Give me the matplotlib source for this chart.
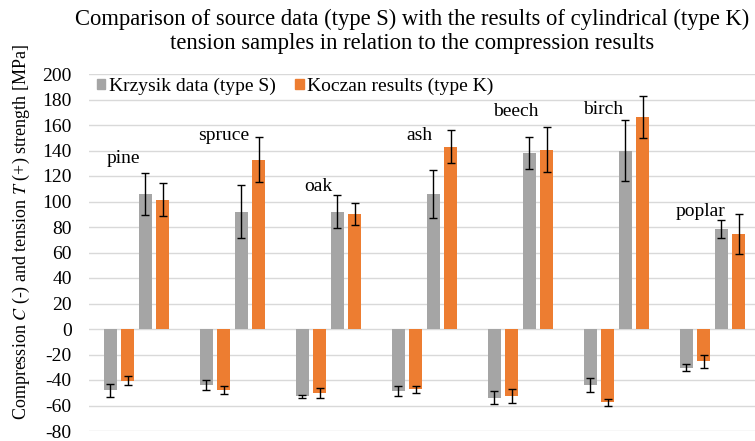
import matplotlib
matplotlib.use("Agg")
import matplotlib.pyplot as plt
import numpy as np
from matplotlib.patches import Patch

species = ["pine", "spruce", "oak", "ash", "beech", "birch", "poplar"]

comp_S = [-48, -44, -52.7, -48.6, -54, -44, -30.5]
comp_S_err = [5, 4, 1.2, 3.6, 5, 5.4, 2.7]
comp_K = [-40.6, -48, -50, -47.3, -52.7, -57.6, -25.3]
comp_K_err = [3.7, 3.3, 3.8, 2.7, 5.4, 2.6, 5.3]
tens_S = [106, 92, 92, 106, 137.8, 140, 78.4]
tens_S_err = [16.5, 21, 13, 19, 12.5, 24, 7]
tens_K = [101.5, 132.8, 90, 143, 140.6, 166, 74.5]
tens_K_err = [13, 17.5, 8.5, 13, 17.5, 16.5, 15.5]

label_y = [133.6, 151.5, 111.7, 152, 170.5, 172.5, 92.5]
label_dx = [-0.14, -0.09, -0.11, -0.05, -0.05, -0.14, -0.12]

ticks = list(range(-80, 201, 20))

gray = "#A5A5A5"
orange = "#ED7D31"

plt.rcParams["font.family"] = ["Liberation Serif", "DejaVu Serif"]
plt.rcParams["mathtext.fontset"] = "stix"

fig = plt.figure(figsize=(7.55, 4.41), dpi=100)
ax = fig.add_axes([88.5 / 755, 1 - 431 / 441, 1 - 88.5 / 755, (431 - 74) / 441])

x = np.arange(len(species))
w = 0.135
step = 0.182
ekw = dict(ecolor="black", elinewidth=1.0, capsize=2.8, capthick=1.0)
series = [
    (comp_S, comp_S_err, gray),
    (comp_K, comp_K_err, orange),
    (tens_S, tens_S_err, gray),
    (tens_K, tens_K_err, orange),
]
for k, (vals, errs, col) in enumerate(series):
    ax.bar(x + (k - 1.5) * step, vals, width=w, color=col, yerr=errs,
           error_kw=ekw, zorder=3)

for i, name in enumerate(species):
    ax.text(x[i] + label_dx[i], label_y[i], name, ha="center", va="center",
            fontsize=14, zorder=4)

ax.set_ylim(-80, 200)
ax.set_xlim(-0.5, -0.5 + (755 - 88.5) / 96)
ax.set_yticks(ticks)
ax.set_yticklabels([str(t) for t in ticks], fontsize=14)
ax.set_xticks([])
ax.tick_params(axis="y", length=0, pad=12)
ax.grid(axis="y", color="#D9D9D9", linewidth=1.0, zorder=0)
for s in ax.spines.values():
    s.set_visible(False)

handles = [Patch(color=gray), Patch(color=orange)]
ax.legend(handles, ["Krzysik data (type S)", "Koczan results (type K)"],
          loc="center left", bbox_to_anchor=((97 - 88.5) / 666.5, (431 - 86) / 357),
          ncol=2, frameon=False, borderpad=0, borderaxespad=0,
          fontsize=14, handlelength=0.42, handleheight=0.42,
          handletextpad=0.2, columnspacing=1.0)

fig.text(21 / 755, 1 - 232 / 441,
         r"Compression $\mathit{C}$ (-) and tension $\mathit{T}$ (+) strength [MPa]",
         rotation=90, ha="center", va="center", fontsize=13)

fig.text(412 / 755, 1 - 19 / 441,
         "Comparison of source data (type S) with the results of cylindrical (type K)",
         ha="center", va="center", fontsize=16.3)
fig.text(412 / 755, 1 - 44 / 441,
         "tension samples in relation to the compression results",
         ha="center", va="center", fontsize=16.3)

fig.savefig("out.png", dpi=100)
